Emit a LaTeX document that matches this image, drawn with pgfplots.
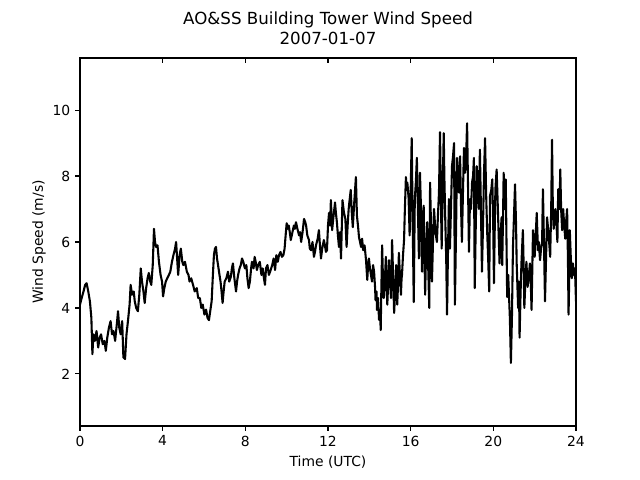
\documentclass[border=0pt]{standalone}
\usepackage{fontspec}
\setmainfont{DejaVu Sans}
\usepackage{pgfplots}
\pgfplotsset{compat=1.18}
\pgfplotstableread{
h v
0.00 4.1
0.08 4.3
0.17 4.5
0.25 4.7
0.32 4.75
0.40 4.5
0.48 4.2
0.55 3.7
0.60 2.6
0.65 3.2
0.72 3.0
0.80 3.3
0.88 2.8
0.95 3.1
1.02 3.2
1.10 2.9
1.18 3.0
1.25 2.7
1.32 3.1
1.40 3.4
1.48 3.6
1.55 3.2
1.62 3.3
1.70 3.0
1.78 3.5
1.84 3.9
1.90 3.4
1.97 3.2
2.04 3.6
2.10 2.5
2.18 2.45
2.25 3.2
2.32 3.6
2.40 4.1
2.45 4.7
2.52 4.4
2.60 4.5
2.65 4.2
2.72 4.0
2.80 3.9
2.87 4.4
2.94 5.2
3.00 4.8
3.07 4.5
3.13 4.15
3.20 4.6
3.27 4.9
3.33 5.06
3.40 4.8
3.45 4.7
3.52 5.3
3.58 6.4
3.63 6.0
3.68 5.85
3.75 5.9
3.82 5.4
3.90 5.0
3.97 4.8
4.02 4.35
4.08 4.6
4.15 4.8
4.22 4.9
4.30 5.0
4.37 5.1
4.45 5.4
4.52 5.6
4.60 5.8
4.65 6.0
4.70 5.5
4.75 5.0
4.82 5.6
4.88 5.8
4.95 5.4
5.00 5.3
5.08 5.4
5.17 5.1
5.25 5.0
5.30 4.8
5.38 4.9
5.47 4.7
5.55 4.5
5.65 4.6
5.72 4.3
5.80 4.3
5.87 4.0
5.94 4.1
6.02 3.8
6.10 3.95
6.17 3.7
6.24 3.63
6.30 3.9
6.37 4.2
6.43 5.0
6.48 5.6
6.53 5.8
6.58 5.85
6.63 5.5
6.68 5.3
6.75 5.0
6.80 4.8
6.85 4.5
6.90 4.15
6.95 4.5
7.00 4.8
7.08 4.9
7.16 5.1
7.22 4.8
7.30 4.95
7.35 5.2
7.40 5.35
7.47 4.9
7.55 4.5
7.60 4.8
7.65 5.0
7.72 5.2
7.78 5.3
7.84 5.5
7.90 5.4
7.98 5.2
8.05 5.3
8.10 4.9
8.16 4.6
8.22 4.8
8.28 5.2
8.32 5.4
8.40 5.2
8.45 5.55
8.50 5.4
8.56 5.15
8.62 5.3
8.70 5.4
8.78 5.0
8.84 5.2
8.90 4.9
8.95 4.7
9.00 5.2
9.07 5.3
9.14 5.0
9.20 5.1
9.30 5.3
9.37 5.5
9.44 5.15
9.50 5.6
9.57 5.4
9.63 5.6
9.70 5.7
9.77 5.55
9.84 5.6
9.90 5.8
9.95 6.2
10.00 6.57
10.05 6.4
10.10 6.5
10.15 6.3
10.20 6.06
10.28 6.3
10.35 6.5
10.40 6.4
10.45 6.6
10.52 6.4
10.60 6.2
10.65 6.3
10.70 6.0
10.77 6.3
10.84 6.7
10.90 6.6
10.94 6.5
11.00 6.2
11.08 6.06
11.12 5.8
11.18 5.75
11.25 6.0
11.32 5.55
11.37 5.7
11.42 5.9
11.50 6.1
11.56 6.36
11.61 5.9
11.66 5.5
11.72 5.8
11.80 6.06
11.85 5.9
11.90 5.7
11.95 5.75
12.00 6.5
12.05 6.88
12.10 6.5
12.14 7.27
12.20 6.36
12.27 6.8
12.34 7.2
12.38 6.9
12.43 6.6
12.48 6.2
12.53 5.85
12.58 6.3
12.63 5.5
12.70 7.27
12.77 6.9
12.84 6.7
12.90 5.85
12.95 6.5
13.00 7.0
13.05 7.3
13.10 7.58
13.15 6.9
13.20 6.45
13.27 7.2
13.35 7.97
13.40 6.8
13.45 6.5
13.50 6.15
13.55 6.0
13.60 5.85
13.65 6.1
13.70 5.75
13.77 5.9
13.84 5.45
13.90 4.85
13.94 5.3
13.98 5.5
14.03 5.2
14.08 5.0
14.13 4.8
14.18 5.3
14.23 5.1
14.28 4.6
14.30 4.24
14.35 4.5
14.37 3.94
14.42 4.3
14.47 3.64
14.52 3.9
14.55 3.33
14.58 4.5
14.62 5.9
14.67 4.6
14.70 4.3
14.75 4.8
14.80 5.55
14.84 4.6
14.87 4.1
14.92 4.9
14.95 5.45
15.00 4.8
15.05 4.3
15.08 5.2
15.10 6.06
15.15 5.0
15.20 3.85
15.25 4.5
15.30 5.3
15.33 4.7
15.35 4.1
15.40 4.9
15.43 5.67
15.48 5.0
15.53 4.4
15.56 4.9
15.58 5.0
15.63 5.6
15.68 6.06
15.72 7.0
15.77 7.97
15.80 7.6
15.84 7.8
15.90 7.33
15.95 6.2
16.00 7.5
16.05 9.15
16.10 6.5
16.15 4.18
16.20 7.3
16.25 7.8
16.30 8.55
16.35 7.0
16.40 5.5
16.45 8.1
16.50 7.0
16.55 5.1
16.60 6.5
16.63 7.1
16.70 4.4
16.75 5.8
16.80 6.6
16.85 5.2
16.90 4.0
16.94 7.8
17.00 6.0
17.03 4.8
17.08 6.0
17.13 7.0
17.20 6.3
17.27 6.0
17.32 6.8
17.37 7.5
17.42 9.33
17.46 7.5
17.50 5.8
17.55 7.6
17.60 9.3
17.63 8.0
17.67 6.8
17.72 5.5
17.76 3.8
17.80 5.5
17.85 7.3
17.90 5.8
17.95 7.0
18.00 8.3
18.05 8.6
18.10 9.0
18.14 4.1
18.20 6.5
18.24 8.55
18.30 8.0
18.34 7.5
18.39 8.6
18.44 7.0
18.48 6.0
18.53 7.5
18.58 8.85
18.63 8.1
18.68 8.5
18.73 9.6
18.78 7.5
18.82 5.7
18.87 7.3
18.92 7.0
18.97 7.8
19.02 8.0
19.06 8.55
19.10 4.6
19.15 6.5
19.20 8.3
19.25 7.5
19.30 7.0
19.35 8.8
19.40 7.0
19.45 5.1
19.50 6.5
19.55 8.1
19.60 9.15
19.65 7.5
19.70 6.35
19.75 5.5
19.80 4.5
19.84 7.4
19.90 7.58
19.95 7.9
20.00 6.3
20.03 4.75
20.07 6.5
20.10 7.6
20.16 8.2
20.22 7.0
20.30 5.35
20.35 6.2
20.40 6.75
20.43 5.3
20.47 6.8
20.50 8.1
20.55 7.0
20.60 7.9
20.67 4.33
20.72 5.0
20.80 3.7
20.85 2.33
20.90 3.7
20.95 5.85
21.00 6.8
21.05 7.75
21.10 6.5
21.13 5.35
21.20 4.0
21.24 4.8
21.27 3.1
21.32 4.5
21.36 5.35
21.43 6.36
21.47 5.2
21.50 4.0
21.55 4.8
21.60 5.4
21.66 4.64
21.72 5.0
21.77 5.35
21.81 4.8
21.85 3.94
21.92 6.36
21.96 6.0
22.00 5.55
22.05 6.2
22.10 6.88
22.16 5.75
22.20 6.0
22.26 5.45
22.31 5.8
22.36 6.0
22.40 7.6
22.45 6.0
22.50 4.2
22.55 5.5
22.60 6.75
22.65 6.4
22.70 6.0
22.75 5.55
22.80 7.0
22.84 9.1
22.88 7.0
22.92 6.4
23.00 7.0
23.05 6.6
23.10 6.0
23.14 7.6
23.20 7.0
23.24 8.2
23.28 7.0
23.33 6.36
23.38 7.0
23.43 6.5
23.48 6.1
23.52 6.6
23.57 7.0
23.61 5.5
23.64 3.8
23.68 5.2
23.70 6.36
23.75 5.5
23.80 4.9
23.85 5.35
23.90 5.0
23.95 5.2
24.00 4.2
}\windtable
\begin{document}
\begin{tikzpicture}
\path[use as bounding box] (-57.6pt,-38.88pt) rectangle (403.2pt,306.72pt);
\begin{axis}[
  at={(0pt,0pt)}, anchor=south west,
  scale only axis, width=357.12pt, height=264.96pt,
  xmin=0, xmax=24, ymin=0.42, ymax=11.58,
  xtick={0,4,8,12,16,20,24}, ytick={2,4,6,8,10},
  xtick pos=lower, ytick pos=left,
  tick align=outside,
  major tick length=3.5pt,
  every tick/.style={black, line width=0.8pt},
  axis line style={line width=0.8pt},
  /pgf/number format/assume math mode=true,
  ticklabel style={font=\fontsize{10}{12}\selectfont},
  label style={font=\fontsize{10}{12}\selectfont},
  xlabel={Time (UTC)},
  ylabel={Wind Speed (m/s)},
  ylabel style={xshift=0pt, yshift=-2pt},
  title={AO\&SS Building Tower Wind Speed\\2007-01-07},
  title style={align=center, font=\fontsize{12}{14.4}\selectfont, yshift=0pt},
]
\addplot[black, line width=1.5pt, line join=round] table[x=h, y=v] {\windtable};
\end{axis}
\begin{axis}[
  at={(0pt,0pt)}, anchor=south west,
  scale only axis, width=357.12pt, height=264.96pt,
  xmin=0, xmax=24, ymin=0.42, ymax=11.58,
  xtick={0,4,8,12,16,20,24}, ytick=\empty,
  xtick pos=upper, tick align=inside,
  xticklabels={},
  major tick length=3.5pt,
  every tick/.style={black, line width=0.8pt},
  axis line style={line width=0.8pt},
]
\end{axis}
\end{tikzpicture}
\end{document}
